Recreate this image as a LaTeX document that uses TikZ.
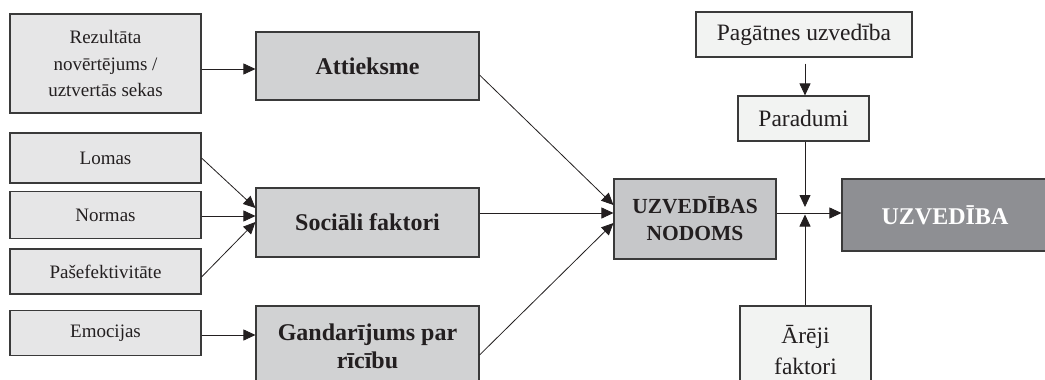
\documentclass[tikz,border=0pt]{standalone}
\usepackage{fontspec}
\setmainfont{Liberation Serif}
\usetikzlibrary{arrows.meta}
\definecolor{txt}{HTML}{231F20}
\definecolor{edge}{HTML}{3A3A3A}
\definecolor{lightL}{HTML}{E6E6E7}
\definecolor{lightR}{HTML}{F2F3F2}
\definecolor{midbox}{HTML}{D1D2D3}
\definecolor{nodbox}{HTML}{C6C7C9}
\definecolor{darkbox}{HTML}{8E8F93}
\tikzset{
  boxbase/.style={draw=edge, line width=1.1pt, inner sep=0pt, align=center, text=txt},
  smallL/.style={boxbase, fill=lightL, font=\fontsize{19}{26.5}\selectfont},
  smallR/.style={boxbase, fill=lightR, font=\fontsize{23.5}{31}\selectfont},
  midB/.style={boxbase, fill=midbox, font=\fontsize{24}{28}\selectfont\bfseries},
  nodB/.style={boxbase, fill=nodbox, font=\fontsize{21.5}{27}\selectfont\bfseries},
  darkB/.style={boxbase, fill=darkbox, text=white, font=\fontsize{24}{28}\selectfont\bfseries},
  arr/.style={draw=txt, line width=0.8pt, -{Triangle[length=12pt,width=11pt]}},
  ln/.style={draw=txt, line width=0.8pt}
}
\begin{document}
\begin{tikzpicture}[x=1pt,y=-1pt]
\useasboundingbox (0,0) rectangle (1045,380);
\clip (0,0) rectangle (1045,380);
\fill[white] (0,0) rectangle (1045,380);
% left inputs
\node[smallL, minimum width=191, minimum height=99] (rez) at (105.5,63.5) {Rezultāta\\novērtējums /\\uztvertās sekas};
\node[smallL, minimum width=191, minimum height=50] (lom) at (105.5,158) {Lomas};
\node[smallL, minimum width=191, minimum height=46.5] (nor) at (105.5,215) {Normas};
\node[smallL, minimum width=191, minimum height=45] (pas) at (105.5,271.5) {Pašefektivitāte};
\node[smallL, minimum width=191, minimum height=45] (emo) at (105.5,333.2) {Emocijas};
% middle
\node[midB, minimum width=223, minimum height=68] (att) at (367.5,66) {Attieksme};
\node[midB, minimum width=223, minimum height=69] (soc) at (367.5,222.5) {Sociāli faktori};
\node[midB, minimum width=223, minimum height=80] (gan) at (367.5,346) {Gandarījums par\\rīcību};
% right
\node[nodB, minimum width=162, minimum height=80] (nod) at (695,219) {UZVEDĪBAS\\NODOMS};
\node[darkB, minimum width=208, minimum height=72] (uzv) at (946,215) {\hspace*{-2pt}UZVEDĪBA};
\node[smallR, minimum width=216, minimum height=45] (pag) at (804,34.5) {Pagātnes uzvedība};
\node[smallR, minimum width=131, minimum height=45] (par) at (803.5,118.5) {Paradumi};
\node[smallR, minimum width=131, minimum height=88] (are) at (805.5,350) {Ārēji\\faktori};
\coordinate (jdown) at (805,207);
\coordinate (jup) at (805,214.5);
% connectors
\draw[arr] (rez.east |- 0,69) -- (att.west |- 0,69);
\draw[arr] (lom.east) -- (soc.west |- 0,208);
\draw[arr] (nor.east |- 0,216) -- (soc.west |- 0,216);
\draw[arr] (pas.east |- 0,277) -- (soc.west |- 0,222);
\draw[arr] (emo.east |- 0,335) -- (gan.west |- 0,335);
\draw[arr] (att.east |- 0,75) -- (nod.west |- 0,205);
\draw[arr] (soc.east |- 0,213) -- (nod.west |- 0,213);
\draw[arr] (gan.east |- 0,355) -- (nod.west |- 0,223);
\draw[arr] (nod.east |- 0,213) -- (uzv.west |- 0,213);
\draw[arr, shorten <=6pt] (pag.south -| jdown) -- (par.north -| jdown);
\draw[arr] (par.south -| jdown) -- (jdown);
\draw[arr] (are.north -| jup) -- (jup);
\end{tikzpicture}
\end{document}
